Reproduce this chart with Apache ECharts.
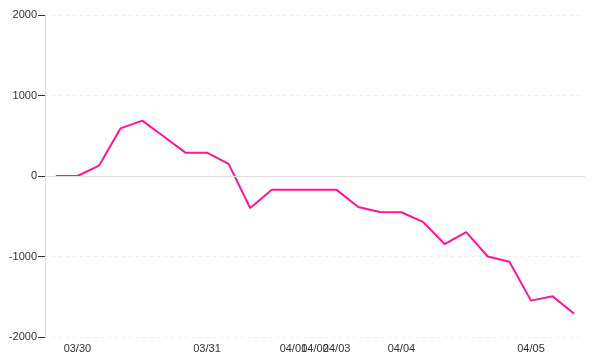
<!DOCTYPE html>
<html>
<head>
<meta charset="utf-8">
<script src="https://cdn.jsdelivr.net/npm/echarts@6/dist/echarts.min.js"></script>
<style>html,body{margin:0;padding:0;background:#fff}#c{width:600px;height:360px}</style>
</head>
<body>
<div id="c"></div>
<script>
var categories = ['', '03/30', '', '', '', '', '', '03/31', '', '', '', '04/01', '04/02', '04/03', '', '', '04/04', '', '', '', '', '', '04/05', '', ''];
var values = [0, 0, 128, 592, 688, 490, 290, 290, 150, -398, -172, -172, -172, -172, -385, -447, -450, -570, -845, -697, -1000, -1065, -1548, -1495, -1712];
var yTicks = { min: -2000, max: 2000, interval: 1000 };

var chart = echarts.init(document.getElementById('c'));
chart.setOption({
  animation: false,
  grid: { left: 45, right: 15, top: 15, bottom: 23 },
  xAxis: {
    type: 'category',
    data: categories,
    boundaryGap: true,
    axisLine: { show: false, onZero: false },
    axisTick: { show: false },
    axisLabel: { interval: 0, color: '#333', fontFamily: 'Liberation Sans', fontSize: 11, margin: 6 },
    splitLine: { show: false }
  },
  yAxis: {
    type: 'value',
    min: yTicks.min, max: yTicks.max, interval: yTicks.interval,
    axisLine: { show: true, lineStyle: { color: '#ddd' } },
    axisTick: { show: true, length: 7, lineStyle: { color: '#333' } },
    axisLabel: { color: '#333', fontFamily: 'Liberation Sans', fontSize: 11, margin: 8,
      formatter: function (v) { return String(v); } },
    splitLine: { show: true, lineStyle: { color: '#eee', type: [3, 4] } }
  },
  series: [{
    type: 'line',
    data: values,
    showSymbol: false,
    symbol: 'none',
    lineStyle: { color: '#ff1493', width: 2 },
    itemStyle: { color: '#ff1493' },
    markLine: {
      silent: true,
      symbol: 'none',
      label: { show: false },
      lineStyle: { color: '#ddd', type: 'solid', width: 1 },
      data: [{ yAxis: 0 }]
    }
  }]
});
</script>
</body>
</html>
